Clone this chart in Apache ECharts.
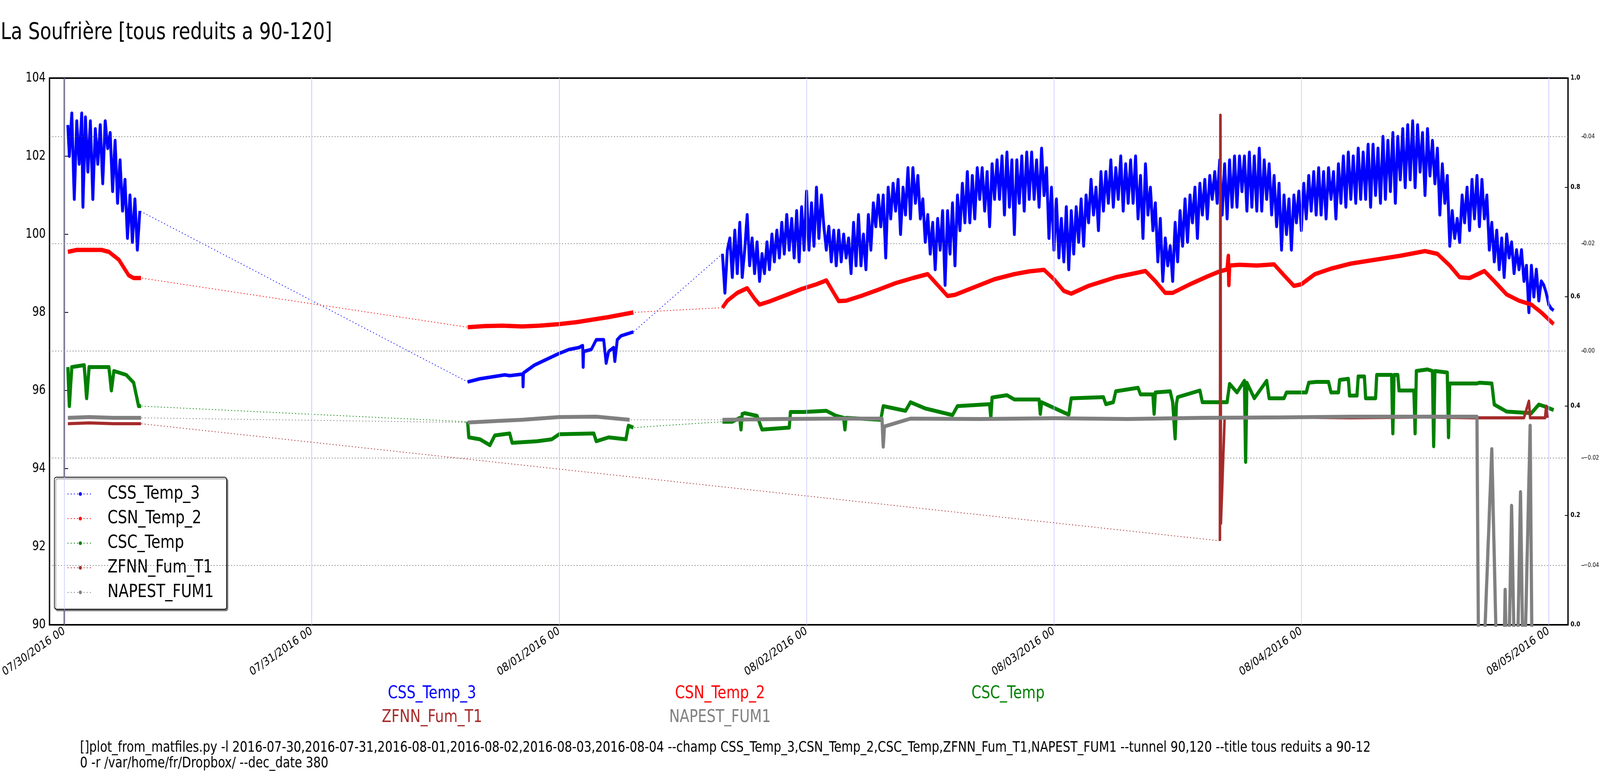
<!DOCTYPE html>
<html>
<head>
<meta charset="utf-8">
<script src="https://cdn.jsdelivr.net/npm/echarts@6/dist/echarts.min.js"></script>
<style>
  html, body { margin:0; padding:0; background:#fff; overflow:hidden; }
  #main { width:5000px; height:2000px; transform-origin:0 0; }
</style>
</head>
<body>
<div id="main"></div>
<script>
// x values are days since 07/30/2016 00
var dayLabels = ['07/30/2016 00','07/31/2016 00','08/01/2016 00','08/02/2016 00','08/03/2016 00','08/04/2016 00','08/05/2016 00'];
var dayTicks = [0,1,2,3,4,5,6];
var gridTicks = [-0.04,-0.02,0.00,0.02,0.04];
var names = ['CSS_Temp_3','CSN_Temp_2','CSC_Temp','ZFNN_Fum_T1','NAPEST_FUM1'];
var colors = ['#0000ff','#ff0000','#008000','#a52a2a','#808080'];

// CSS_Temp_3
var css_a = [[0.014,102.8],[0.02,102.0],[0.03,103.1],[0.04,100.9],[0.05,102.9],[0.06,101.8],[0.07,103.1],[0.075,100.7],
  [0.085,103.0],[0.095,101.6],[0.105,102.9],[0.115,100.9],[0.125,102.7],[0.135,101.8],[0.145,102.8],[0.155,101.3],
  [0.165,102.9],[0.175,102.2],[0.185,102.6],[0.195,101.1],[0.205,102.4],[0.215,100.8],[0.225,101.9],[0.235,100.6],
  [0.245,101.4],[0.255,99.9],[0.265,101.0],[0.275,99.8],[0.285,100.9],[0.295,99.6],[0.305,100.6]];
var css_b = [[1.63,96.22],[1.68,96.3],[1.73,96.35],[1.78,96.4],[1.80,96.38],[1.853,96.42],[1.854,96.1],[1.856,96.45],
  [1.90,96.65],[1.95,96.8],[2.00,96.95],[2.04,97.05],[2.08,97.1],[2.095,97.15],[2.097,96.6],[2.099,97.0],[2.13,97.05],
  [2.15,97.3],[2.18,97.3],[2.19,96.7],[2.20,97.0],[2.22,97.1],[2.225,96.75],[2.235,97.3],[2.25,97.4],[2.30,97.5]];
var css_c_start = 2.66, css_c_step = 0.01;
var css_c_vals = [99.5,98.5,99.6,99.9,98.9,100.1,99.0,100.3,98.9,99.6,100.5,99.2,99.9,99.0,99.8,98.8,99.5,99.0,99.8,99.1,
  100.0,99.3,100.1,99.4,100.3,99.5,100.5,99.6,100.4,99.4,100.6,99.3,100.7,99.6,101.1,99.6,100.8,99.7,101.2,99.9,
  101.0,100.2,99.6,100.2,99.3,100.1,99.2,100.1,99.3,100.0,99.4,99.9,99.0,100.3,99.2,100.5,99.2,100.0,99.1,100.5,
  99.6,100.8,100.2,101.0,100.2,101.0,99.4,101.2,100.4,101.3,100.6,101.4,100.0,101.2,100.5,101.7,100.4,101.7,100.8,101.5,
  100.4,100.9,99.8,100.5,99.5,100.3,99.1,100.4,99.6,100.6,98.7,100.6,99.5,100.8,99.2,101.0,100.1,101.3,100.3,101.6,
  100.3,101.5,100.4,101.7,100.9,101.7,100.6,101.6,100.2,101.8,100.9,101.9,100.9,102.0,100.5,102.1,100.7,101.9,
  100.0,101.9,100.8,102.0,100.6,102.1,100.9,102.1,100.9,101.9,100.7,102.2,101.0,101.7,99.9,101.2,99.6,100.9,99.4,100.4,
  99.3,100.7,99.1,100.6,99.5,100.7,99.8,100.9,99.7,101.0,100.3,101.4,100.5,101.2,100.1,101.6,100.6,101.6,100.8,101.9,
  100.7,101.7,100.9,102.0,100.6,101.8,100.8,101.9,100.8,102.0,100.4,101.5,99.9,101.8,100.5,101.2,100.1,100.8,99.3,100.4,
  98.8,99.9,99.2,99.7,98.8,100.3,99.3,100.6,99.7,100.9,99.8,101.0,100.3,101.2,99.9,101.3,100.5,101.4,100.4,101.5,
  100.9,101.6,100.8,101.9,100.5,101.8,100.4,101.9,100.7,102.0,100.7,102.0,101.1,102.0,100.6,102.1,100.7,102.0,100.6,102.2,
  100.6,101.9,100.9,101.8,100.5,101.5,100.2,101.3,99.6,101.0,100.0,100.9,99.6,101.0,100.3,101.1,100.1,101.3,100.4,101.5,
  100.6,101.6,100.5,101.7,100.5,101.6,100.4,101.7,100.9,101.6,100.4,101.8,100.8,102.0,100.7,102.1,100.9,102.0,100.8,102.2,
  100.9,102.1,100.9,102.3,100.7,102.3,101.0,102.2,100.8,102.5,100.9,102.4,101.1,102.6,100.8,102.5,101.4,102.7,101.2,102.8,
  101.4,102.9,101.2,102.8,101.6,102.6,101.0,102.7,101.5,102.4,101.3,102.2,100.5,101.8,100.8,101.5,99.7,100.6,99.9,100.4,
  99.8,101.0,100.3,101.2,100.1,101.4,100.4,101.5,100.2,101.4,100.4,101.0,99.6,100.3,99.3,100.1,99.1,99.9,98.9,100.0,
  99.4,99.8,99.0,99.6,99.1,99.6,98.8,99.2,98.0,99.2,98.4,99.1,98.3,98.8,98.7,98.5,98.2,98.1,98.05];

// CSN_Temp_2
var csn_a = [[0.014,99.55],[0.05,99.6],[0.1,99.6],[0.15,99.6],[0.18,99.55],[0.2,99.45],[0.22,99.35],[0.24,99.15],[0.26,98.95],[0.28,98.88],[0.31,98.88]];
var csn_b = [[1.63,97.62],[1.7,97.65],[1.77,97.66],[1.85,97.64],[1.92,97.66],[2.0,97.7],[2.07,97.75],[2.14,97.82],[2.2,97.88],[2.25,97.94],[2.30,98.0]];
var csn_c = [[2.66,98.12],[2.68,98.3],[2.72,98.5],[2.76,98.62],[2.79,98.35],[2.81,98.2],[2.85,98.28],[2.92,98.45],[2.98,98.6],
  [3.04,98.72],[3.08,98.82],[3.11,98.5],[3.13,98.29],[3.16,98.3],[3.22,98.42],[3.29,98.58],[3.36,98.75],[3.43,98.88],[3.49,98.98],
  [3.53,98.7],[3.57,98.42],[3.6,98.45],[3.68,98.65],[3.76,98.85],[3.84,98.98],[3.90,99.05],[3.96,99.09],[4.0,98.85],[4.04,98.55],
  [4.07,98.48],[4.14,98.68],[4.25,98.9],[4.37,99.06],[4.41,98.8],[4.45,98.5],[4.48,98.5],[4.55,98.72],[4.62,98.92],[4.67,99.05],
  [4.70,99.1],[4.705,99.45],[4.707,98.7],[4.71,99.2],[4.75,99.22],[4.82,99.2],[4.89,99.23],[4.93,98.95],[4.97,98.68],[5.0,98.72],
  [5.055,98.98],[5.12,99.12],[5.2,99.25],[5.3,99.35],[5.4,99.45],[5.5,99.57],[5.55,99.5],[5.6,99.2],[5.64,98.9],[5.68,98.88],
  [5.74,99.06],[5.78,98.8],[5.83,98.46],[5.88,98.3],[5.93,98.2],[5.97,98.0],[6.02,97.7]];

// CSC_Temp
var csc_a = [[0.014,96.6],[0.02,95.6],[0.03,96.6],[0.08,96.65],[0.09,95.8],[0.1,96.6],[0.18,96.6],[0.19,96.0],[0.2,96.5],[0.25,96.4],[0.28,96.2],[0.3,95.6],[0.31,95.6]];
var csc_b = [[1.63,95.2],[1.635,94.8],[1.68,94.75],[1.72,94.6],[1.74,94.85],[1.80,94.9],[1.81,94.66],[1.91,94.7],[1.97,94.75],
  [2.0,94.88],[2.14,94.9],[2.15,94.7],[2.2,94.8],[2.27,94.75],[2.28,95.1],[2.30,95.05]];
var csc_c = [[2.66,95.2],[2.70,95.2],[2.73,95.3],[2.735,95.0],[2.74,95.4],[2.75,95.42],[2.80,95.35],[2.82,95.0],[2.93,95.05],
  [2.935,95.45],[2.99,95.45],[3.08,95.48],[3.12,95.35],[3.15,95.3],[3.155,95.0],[3.16,95.3],[3.30,95.25],[3.31,95.6],[3.40,95.48],
  [3.42,95.7],[3.48,95.54],[3.59,95.37],[3.61,95.6],[3.74,95.65],[3.745,95.3],[3.75,95.82],[3.81,95.88],[3.84,95.77],[3.94,95.77],
  [3.945,95.4],[3.95,95.7],[4.06,95.38],[4.07,95.8],[4.2,95.83],[4.21,95.65],[4.24,95.7],[4.25,95.98],[4.34,96.07],[4.35,95.9],
  [4.40,95.9],[4.405,95.4],[4.41,95.95],[4.47,95.98],[4.48,95.7],[4.49,94.77],[4.495,95.65],[4.50,95.83],[4.59,96.0],[4.60,95.7],
  [4.70,95.7],[4.71,96.17],[4.74,95.95],[4.77,96.25],[4.775,94.17],[4.78,96.2],[4.81,95.8],[4.86,96.25],[4.87,95.8],[4.93,95.8],
  [4.94,95.95],[5.02,95.95],[5.03,96.2],[5.06,96.22],[5.11,96.22],[5.12,95.95],[5.15,95.95],[5.155,96.27],[5.19,96.3],
  [5.195,95.87],[5.225,95.87],[5.23,96.36],[5.255,96.36],[5.26,95.8],[5.30,95.8],[5.305,96.4],[5.365,96.4],[5.37,94.9],
  [5.375,96.4],[5.39,96.4],[5.395,96.0],[5.455,96.0],[5.46,94.9],[5.465,96.5],[5.51,96.54],[5.53,96.5],[5.535,94.57],
  [5.54,96.5],[5.59,96.46],[5.595,94.8],[5.60,96.18],[5.71,96.18],[5.72,96.2],[5.77,96.18],[5.78,95.64],[5.83,95.46],
  [5.93,95.42],[5.96,95.64],[5.98,95.6],[6.02,95.5]];

// ZFNN_Fum_T1
var zfnn_a = [[0.014,95.15],[0.1,95.17],[0.2,95.15],[0.31,95.15]];
var zfnn_b = [[4.671,92.15],[4.673,103.05],[4.675,92.6],[4.69,95.3],[4.9,95.32],[5.2,95.3],[5.5,95.32],[5.7,95.3],[5.9,95.3],
  [5.92,95.73],[5.925,95.3],[5.985,95.3],[5.99,95.6],[5.995,95.3]];

// NAPEST_FUM1
var nap_a = [[0.014,95.3],[0.1,95.32],[0.2,95.3],[0.31,95.3]];
var nap_b = [[1.63,95.18],[1.75,95.22],[1.85,95.25],[2.0,95.32],[2.15,95.33],[2.285,95.25]];
var nap_c = [[2.66,95.25],[2.9,95.27],[3.1,95.28],[3.305,95.28],[3.31,94.56],[3.315,95.08],[3.42,95.28],[3.7,95.27],[4.0,95.29],
  [4.3,95.27],[4.6,95.3],[4.9,95.31],[5.2,95.33],[5.5,95.33],[5.71,95.33],[5.716,89.5],[5.74,89.5],[5.77,94.5],[5.788,89.5],
  [5.82,89.5],[5.824,90.9],[5.828,89.5],[5.84,89.5],[5.85,93.05],[5.86,89.5],[5.875,89.5],[5.886,93.4],[5.895,89.5],
  [5.905,89.5],[5.925,95.1],[5.932,89.5]];

function stepSeg(start, step, vals) {
  var out = [];
  for (var i = 0; i < vals.length; i++) out.push([+(start + i * step).toFixed(3), vals[i]]);
  return out;
}

var segs = [
  [css_a, css_b, stepSeg(css_c_start, css_c_step, css_c_vals)],
  [csn_a, csn_b, csn_c],
  [csc_a, csc_b, csc_c],
  [zfnn_a, zfnn_b],
  [nap_a, nap_b, nap_c]
];
var widths = [9, 11, 10, 8, 10];

var series = [];
for (var i = 0; i < names.length; i++) {
  var all = [], broken = [];
  for (var s = 0; s < segs[i].length; s++) {
    all = all.concat(segs[i][s]);
    if (s > 0) broken.push([segs[i][s][0][0] - 0.0001, null]);
    broken = broken.concat(segs[i][s]);
  }
  series.push({
    name: names[i], type: 'line', data: all, symbol: 'circle', symbolSize: 7, showSymbol: false,
    itemStyle: { color: colors[i] }, lineStyle: { color: colors[i], width: 2, type: [3, 7] },
    animation: false, z: 2 + i
  });
  series.push({
    name: names[i], type: 'line', data: broken, showSymbol: false, connectNulls: false,
    itemStyle: { color: colors[i] }, lineStyle: { color: colors[i], width: widths[i], join: 'round' },
    animation: false, z: 2 + i
  });
}
// grid lines of the offset right axis and the day lines
series.push({
  type: 'line', data: [], yAxisIndex: 2, silent: true,
  markLine: { symbol: 'none', silent: true, label: { show: false },
    lineStyle: { color: '#555', width: 1.5, type: [3, 6] },
    data: gridTicks.map(function (v) { return { yAxis: v }; }) }
});
series.push({
  type: 'line', data: [], silent: true,
  markLine: { symbol: 'none', silent: true, label: { show: false },
    lineStyle: { color: '#c8c8ff', width: 2, type: 'solid' },
    data: dayTicks.map(function (v) { return { xAxis: v }; }) }
});

var xMin = -47 / 782, xMax = 6 + 61 / 782;
var option = {
  backgroundColor: '#fff',
  textStyle: { fontFamily: 'DejaVu Sans' },
  grid: { left: 100, right: 100, top: 200, bottom: 400, show: true, borderColor: '#000', borderWidth: 4, backgroundColor: 'transparent' },
  xAxis: {
    type: 'value', min: xMin, max: xMax,
    axisLine: { lineStyle: { color: '#000', width: 4 } },
    axisTick: { inside: true, length: 10, lineStyle: { color: '#000', width: 2 }, customValues: dayTicks },
    axisLabel: { customValues: dayTicks, rotate: 30, fontSize: 30, color: '#000', margin: 14,
      formatter: function (v) { return dayLabels[Math.round(v)]; } },
    splitLine: { show: false }
  },
  yAxis: [
    { type: 'value', min: 90, max: 104, interval: 2, position: 'left',
      axisLine: { show: true, lineStyle: { color: '#000', width: 4 } },
      axisTick: { inside: true, length: 12, lineStyle: { color: '#000', width: 2 } },
      axisLabel: { fontSize: 33, color: '#000', margin: 12 }, splitLine: { show: false } },
    { type: 'value', min: 0, max: 1, interval: 0.2, position: 'right',
      axisLine: { show: true, lineStyle: { color: '#000', width: 4 } },
      axisTick: { inside: true, length: 10, lineStyle: { color: '#000', width: 2 } },
      axisLabel: { fontSize: 17, fontWeight: 'bold', color: '#000', margin: 8, formatter: function (v) { return v.toFixed(1); } },
      splitLine: { show: false } },
    { type: 'value', min: -0.0511, max: 0.0509, position: 'right', offset: 42,
      axisLine: { show: false },
      axisTick: { show: true, length: 8, customValues: gridTicks, lineStyle: { color: '#000', width: 1.5 } },
      axisLabel: { customValues: gridTicks, fontSize: 16, color: '#000', margin: 6,
        formatter: function (v) { return v < 0 ? '\u22120.0' + Math.round(-v * 100) : '0.0' + Math.round(v * 100); } },
      splitLine: { show: false } }
  ],
  legend: {
    data: names, orient: 'vertical', left: 170, top: 1222, padding: [20, 40, 20, 40],
    itemGap: 17, itemWidth: 80, itemHeight: 12,
    textStyle: { fontSize: 46, color: '#000', padding: [0, 0, 0, 40] },
    borderColor: '#000', borderWidth: 2, borderRadius: 6, backgroundColor: '#fff',
    shadowColor: 'rgba(0,0,0,0.5)', shadowOffsetX: 4, shadowOffsetY: 4, shadowBlur: 2
  },
  graphic: [
    { type: 'text', left: 2, top: 56, style: { text: 'La Soufrière [tous reduits a 90-120]', fontSize: 58, fill: '#000', fontFamily: 'DejaVu Sans' } },
    { type: 'text', x: 1350, y: 1777, style: { text: 'CSS_Temp_3', fontSize: 44, fill: colors[0], align: 'center', verticalAlign: 'middle', fontFamily: 'DejaVu Sans' } },
    { type: 'text', x: 2250, y: 1777, style: { text: 'CSN_Temp_2', fontSize: 44, fill: colors[1], align: 'center', verticalAlign: 'middle', fontFamily: 'DejaVu Sans' } },
    { type: 'text', x: 3150, y: 1777, style: { text: 'CSC_Temp', fontSize: 44, fill: colors[2], align: 'center', verticalAlign: 'middle', fontFamily: 'DejaVu Sans' } },
    { type: 'text', x: 1350, y: 1838, style: { text: 'ZFNN_Fum_T1', fontSize: 44, fill: colors[3], align: 'center', verticalAlign: 'middle', fontFamily: 'DejaVu Sans' } },
    { type: 'text', x: 2250, y: 1838, style: { text: 'NAPEST_FUM1', fontSize: 44, fill: colors[4], align: 'center', verticalAlign: 'middle', fontFamily: 'DejaVu Sans' } },
    { type: 'text', x: 250, y: 1895, style: { text: '[]plot_from_matfiles.py -l 2016-07-30,2016-07-31,2016-08-01,2016-08-02,2016-08-03,2016-08-04 --champ CSS_Temp_3,CSN_Temp_2,CSC_Temp,ZFNN_Fum_T1,NAPEST_FUM1 --tunnel 90,120 --title tous reduits a 90-12\n0 -r /var/home/fr/Dropbox/ --dec_date 380', fontSize: 37, lineHeight: 40, fill: '#000', fontFamily: 'DejaVu Sans' } }
  ],
  series: series
};

// the browser window may be narrower than 5000px: squeeze the 5000x2000 chart to fit it
var el = document.getElementById('main');
var sx = Math.min(1, window.innerWidth / 5000), sy = Math.min(1, window.innerHeight / 2000);
el.style.transform = 'scale(' + sx + ',' + sy + ')';

var myChart = echarts.init(el);
myChart.setOption(option);
</script>
</body>
</html>
